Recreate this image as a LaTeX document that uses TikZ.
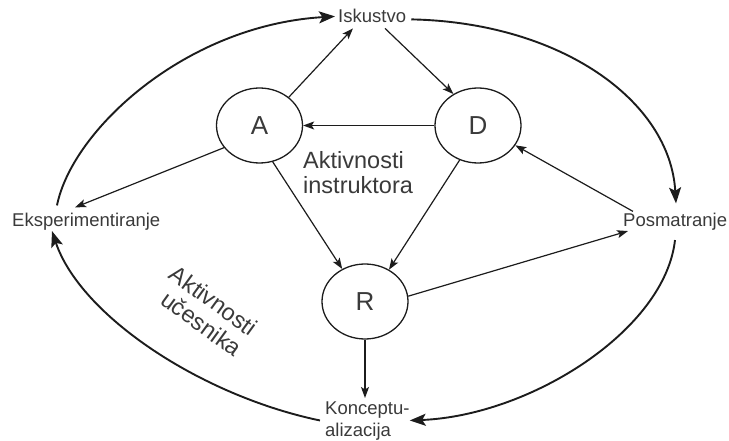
\documentclass[tikz,border=0pt]{standalone}
\usepackage{fontspec}
\setmainfont{Liberation Sans}
\usetikzlibrary{arrows.meta,shapes.geometric,calc}
\definecolor{textgray}{HTML}{3A3A3A}
\definecolor{linegray}{HTML}{1C1C1C}
\begin{document}
\begin{tikzpicture}[x=1pt,y=-1pt,
  lbl/.style={inner sep=0pt, text=textgray, font=\fontsize{18.5}{22}\selectfont},
  heading/.style={inner sep=0pt, text=textgray, font=\fontsize{23.5}{25.5}\selectfont},
  role/.style={ellipse, draw=linegray, line width=1.3pt, minimum width=86pt,
    minimum height=75pt, inner sep=0pt, text=textgray, font=\fontsize{26}{28}\selectfont},
  instrarrow/.style={draw=linegray, line width=1.2pt,
    -{Stealth[length=11pt,width=8pt,inset=2.5pt]}},
  learnarrow/.style={draw=linegray, line width=1.9pt,
    -{Stealth[length=16pt,width=12pt,inset=3.5pt]}},
]
\useasboundingbox (0,0) rectangle (729,441);

% instructor activities
\node[role] (A) at (259.5,125.5) {A};
\node[role] (D) at (478,125.5) {D};
\node[role] (R) at (365,301.5) {R};

% learning cycle stages
\node[lbl, anchor=base west] (isk) at (338,23) {Iskustvo};
\node[lbl, anchor=base west] (eksp) at (12,226) {Eksperimentiranje};
\node[lbl, anchor=base west] (posm) at (623,227) {Posmatranje};
\node[lbl, anchor=north west, align=left] (konc) at (325,402) {Konceptu-\\alizacija};

% group captions
\node[heading, anchor=north west, align=left] (instr) at (303,151) {Aktivnosti\\instruktora};
\node[heading, align=right, rotate=-36] (ucesn) at (206,311) {Aktivnosti\\učesnika};

% outer learning cycle
\draw[learnarrow] ($(eksp.north west)+(45,-7)$) .. controls +(15,-75) and +(-150,9) .. ($(isk.west)+(-3,0)$);
\draw[learnarrow] ($(isk.east)+(5,3)$) .. controls +(149,3) and +(-6,-103) .. ($(posm.north west)+(53,-10)$);
\draw[learnarrow] ($(posm.south west)+(52,9)$) .. controls +(-10,90) and +(121,-5) .. ($(konc.east)+(0,-1)$);
\draw[learnarrow] ($(konc.west)+(-5,-1)$) .. controls +(-120,-25) and +(28,84) .. ($(eksp.south west)+(40,1)$);

% inner connections
\draw[instrarrow] (A.44) -- ($(isk.south west)+(15,5)$);
\draw[instrarrow] ($(isk.south west)+(47,5)$) -- (D.128);
\draw[instrarrow] (D) -- (A);
\draw[instrarrow] (A.212) -- ($(eksp.north west)+(63,-5)$);
\draw[instrarrow] (A.290) -- (R.125);
\draw[instrarrow] (D.242) -- (R.53);
\draw[instrarrow] ($(posm.north west)+(10,-2)$) -- (D.332);
\draw[instrarrow] (R.7) -- ($(posm.south west)+(5,0)$);
\draw[instrarrow] (R) -- ($(konc.north west)+(40,-4)$);
\end{tikzpicture}
\end{document}
